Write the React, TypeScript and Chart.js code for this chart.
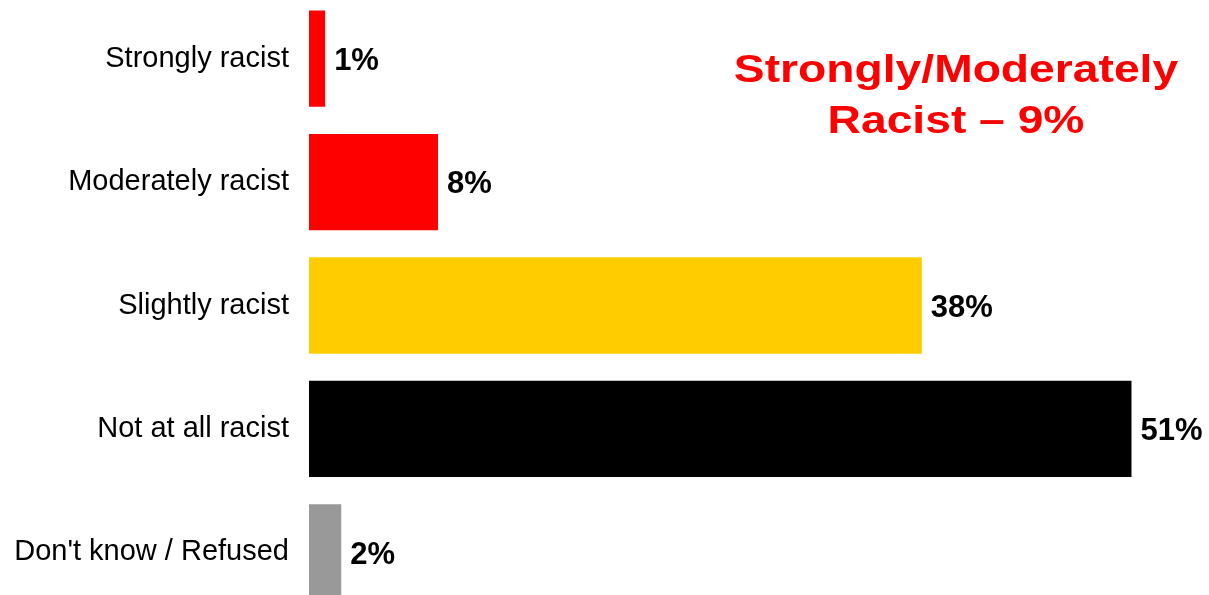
import React, { useEffect, useRef } from "react";
import { Chart, registerables } from "chart.js";

Chart.register(...registerables);

const categories = [
  "Strongly racist",
  "Moderately racist",
  "Slightly racist",
  "Not at all racist",
  "Don't know / Refused",
];
const values = [1, 8, 38, 51, 2];
const barColors = ["#FF0000", "#FF0000", "#FFCC00", "#000000", "#999999"];
const valueLabels = ["1%", "8%", "38%", "51%", "2%"];
const noteLines = ["Strongly/Moderately", "Racist \u2013 9%"];

const FONT = "'Liberation Sans', Arial, sans-serif";
const TOP_OFFSET = -3;

const valueLabelPlugin = {
  id: "valueLabels",
  afterDatasetsDraw(chart: any) {
    const ctx = chart.ctx;
    const meta = chart.getDatasetMeta(0);
    ctx.save();
    ctx.font = `bold 31px ${FONT}`;
    ctx.fillStyle = "#000000";
    ctx.textAlign = "left";
    ctx.textBaseline = "alphabetic";
    meta.data.forEach((bar: any, i: number) => {
      ctx.fillText(valueLabels[i], bar.x + 9, bar.y + 11.2);
    });
    ctx.restore();
  },
};

const notePlugin = {
  id: "note",
  afterDraw(chart: any) {
    const ctx = chart.ctx;
    ctx.save();
    ctx.font = `bold 39.5px ${FONT}`;
    ctx.fillStyle = "#FF0000";
    ctx.textAlign = "center";
    ctx.textBaseline = "alphabetic";
    const baselines = [81.5 - TOP_OFFSET, 133.3 - TOP_OFFSET];
    noteLines.forEach((line, i) => {
      ctx.save();
      ctx.translate(956, baselines[i]);
      ctx.scale(1.17, 1);
      ctx.fillText(line, 0, 0);
      ctx.restore();
    });
    ctx.restore();
  },
};

export default function App() {
  const ref = useRef<HTMLCanvasElement | null>(null);
  useEffect(() => {
    if (!ref.current) return;
    const chart = new Chart(ref.current, {
      type: "bar",
      data: {
        labels: categories,
        datasets: [
          {
            data: values,
            backgroundColor: barColors,
            borderWidth: 0,
            barPercentage: 0.78,
            categoryPercentage: 1,
          },
        ],
      },
      options: {
        indexAxis: "y",
        animation: false,
        responsive: false,
        devicePixelRatio: 1,
        layout: { padding: { left: 0, right: 13, top: 0, bottom: 0 } },
        plugins: {
          legend: { display: false },
          tooltip: { enabled: false },
          title: { display: false },
        },
        scales: {
          x: {
            display: false,
            min: 0,
            max: 55,
          },
          y: {
            grid: { display: false, drawTicks: false },
            border: { display: false },
            ticks: {
              color: "#000000",
              padding: 20,
              font: { family: FONT, size: 29 },
            },
            afterFit(scale: any) {
              scale.width = 309;
              scale.paddingTop = 0;
              scale.paddingBottom = 0;
            },
          },
        },
      } as any,
      plugins: [valueLabelPlugin, notePlugin],
    });
    return () => chart.destroy();
  }, []);

  return (
    <div
      style={{
        position: "fixed",
        left: 0,
        top: 0,
        width: 1209,
        height: 595,
        overflow: "hidden",
        background: "#ffffff",
      }}
    >
      <canvas
        ref={ref}
        width={1209}
        height={617}
        style={{
          position: "absolute",
          left: 0,
          top: TOP_OFFSET,
          width: 1209,
          height: 617,
          display: "block",
        }}
      />
    </div>
  );
}
